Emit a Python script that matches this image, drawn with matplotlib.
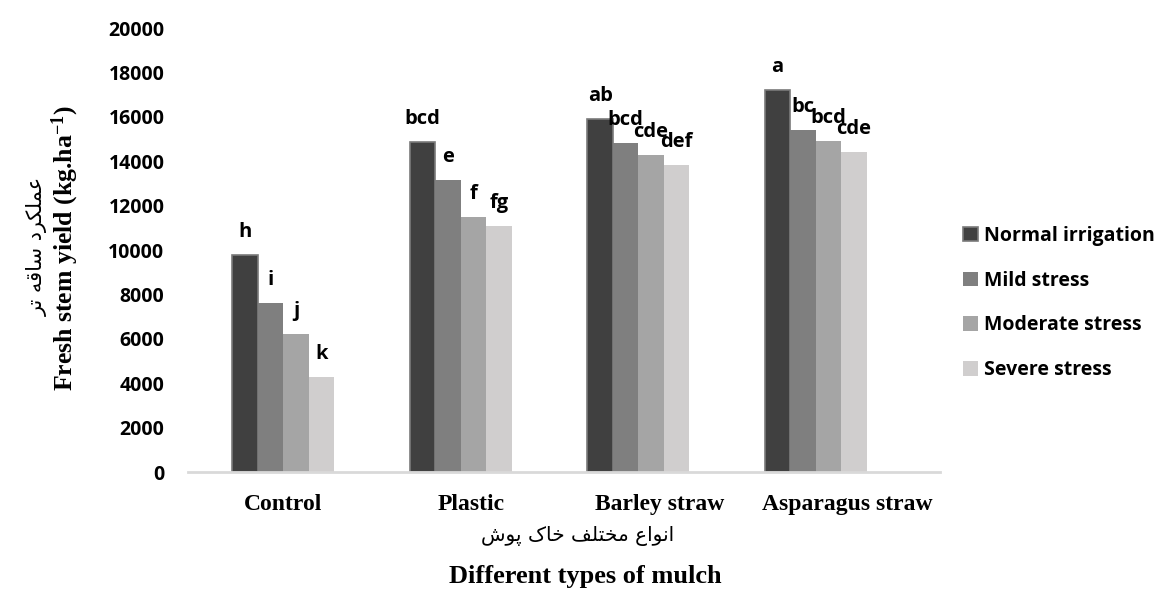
import matplotlib
matplotlib.use("Agg")
import matplotlib.pyplot as plt
import numpy as np
from matplotlib.patches import Patch

# ---------------- data ----------------
categories = ["Control", "Plastic", "Barley straw", "Asparagus straw"]
series = ["Normal irrigation", "Mild stress", "Moderate stress", "Severe stress"]
normal_irrigation = [9780, 14850, 15900, 17210]
mild_stress = [7630, 13150, 14810, 15420]
moderate_stress = [6220, 11490, 14280, 14910]
severe_stress = [4300, 11070, 13840, 14430]
letters_normal = ["h", "bcd", "ab", "a"]
letters_mild = ["i", "e", "bcd", "bc"]
letters_moderate = ["j", "f", "cde", "bcd"]
letters_severe = ["k", "fg", "def", "cde"]
y_ticks = [0, 2000, 4000, 6000, 8000, 10000, 12000, 14000, 16000, 18000, 20000]
x_title_en = "Different types of mulch"
x_title_fa = "انواع مختلف خاک پوش"
y_title_en = "Fresh stem yield (kg.ha$^{-1}$)"
y_title_fa = "عملکرد ساقه تر"

values = [normal_irrigation, mild_stress, moderate_stress, severe_stress]
letters = [letters_normal, letters_mild, letters_moderate, letters_severe]
colors = ["#404040", "#7f7f7f", "#a5a5a5", "#d0cece"]
edges = ["#7a7a7a", "#7f7f7f", "#a5a5a5", "#d0cece"]


# ---------- minimal Arabic-script shaping (presentation forms) ----------
FORMS = {
    "ا": ("\uFE8D", "\uFE8E", None, None),
    "ت": ("\uFE95", "\uFE96", "\uFE97", "\uFE98"),
    "خ": ("\uFEA5", "\uFEA6", "\uFEA7", "\uFEA8"),
    "د": ("\uFEA9", "\uFEAA", None, None),
    "ر": ("\uFEAD", "\uFEAE", None, None),
    "س": ("\uFEB1", "\uFEB2", "\uFEB3", "\uFEB4"),
    "ش": ("\uFEB5", "\uFEB6", "\uFEB7", "\uFEB8"),
    "ع": ("\uFEC9", "\uFECA", "\uFECB", "\uFECC"),
    "ف": ("\uFED1", "\uFED2", "\uFED3", "\uFED4"),
    "ق": ("\uFED5", "\uFED6", "\uFED7", "\uFED8"),
    "ک": ("\uFB8E", "\uFB8F", "\uFB90", "\uFB91"),
    "ل": ("\uFEDD", "\uFEDE", "\uFEDF", "\uFEE0"),
    "م": ("\uFEE1", "\uFEE2", "\uFEE3", "\uFEE4"),
    "ن": ("\uFEE5", "\uFEE6", "\uFEE7", "\uFEE8"),
    "ه": ("\uFEE9", "\uFEEA", "\uFEEB", "\uFEEC"),
    "و": ("\uFEED", "\uFEEE", None, None),
    "پ": ("\uFB56", "\uFB57", "\uFB58", "\uFB59"),
}


def dual(c):
    return c in FORMS and FORMS[c][2] is not None


def shape(text):
    out = []
    for i, c in enumerate(text):
        if c not in FORMS:
            out.append(c)
            continue
        prev = text[i - 1] if i > 0 else " "
        nxt = text[i + 1] if i + 1 < len(text) else " "
        jp = dual(prev)
        jn = dual(c) and nxt in FORMS
        iso, fin, ini, med = FORMS[c]
        if jp and jn:
            out.append(med)
        elif jp:
            out.append(fin)
        elif jn:
            out.append(ini)
        else:
            out.append(iso)
    return "".join(reversed(out))


plt.rcParams["mathtext.fontset"] = "custom"
plt.rcParams["mathtext.rm"] = "Liberation Serif:bold"
plt.rcParams["mathtext.bf"] = "Liberation Serif:bold"
plt.rcParams["mathtext.default"] = "regular"

W, H = 1156, 597
fig = plt.figure(figsize=(W / 100, H / 100), dpi=100)
ax = fig.add_axes([188 / W, 1 - 472 / H, 752 / W, 444 / H])

x = np.arange(len(categories))
bw = 0.1437
for i, (vals, col, ec, labs) in enumerate(zip(values, colors, edges, letters)):
    pos = x + (i - 1.5) * bw
    ax.bar(pos, vals, width=bw, color=col, edgecolor=ec, linewidth=1.2 if i == 0 else 0,
           label=series[i], zorder=2)
    for px, v, t in zip(pos, vals, labs):
        ax.annotate(t, (px, v), xytext=(0, 18), textcoords="offset pixels",
                    ha="center", va="baseline", fontsize=14.5, fontweight="bold",
                    family="Open Sans", color="black")

ax.set_xlim(-0.538, 3.70)
ax.set_ylim(0, 20000)
ax.set_yticks(y_ticks)
ax.set_yticklabels([str(t) for t in y_ticks], fontsize=14, fontweight="bold", family="Open Sans")
# category labels sit on an evenly divided axis (slightly wider than bar spacing)
ax.set_xticks(x * 1.06)
ax.set_xticklabels(categories, fontsize=17, fontweight="bold", family="Liberation Serif")
ax.tick_params(axis="y", length=0, pad=17)
ax.tick_params(axis="x", length=0, pad=16)
for s in ["top", "right", "left"]:
    ax.spines[s].set_visible(False)
ax.spines["bottom"].set_color("#d9d9d9")
ax.spines["bottom"].set_linewidth(2)

# x titles
fig.text(578 / W, 1 - 536 / H, shape(x_title_fa), ha="center", va="center",
         fontsize=14.5, family=["DejaVu Sans"])
fig.text(585 / W, 1 - 577 / H, x_title_en, ha="center", va="center",
         fontsize=19, fontweight="bold", family="Liberation Serif")
# y titles
fig.text(37 / W, 1 - 246 / H, shape(y_title_fa), ha="center", va="center",
         rotation=90, fontsize=15, family=["DejaVu Sans"])
fig.text(65 / W, 1 - 248 / H, y_title_en, ha="center", va="center",
         rotation=90, fontsize=18.5, fontweight="bold", family="Liberation Serif")

handles = [Patch(facecolor=c, edgecolor=e, linewidth=1.2 if i == 0 else 0)
           for i, (c, e) in enumerate(zip(colors, edges))]
fig.legend(handles, series, loc="upper left",
           bbox_to_anchor=(963 / W, 1 - 226 / H), bbox_transform=fig.transFigure,
           frameon=False, borderpad=0, borderaxespad=0, handlelength=0.77,
           handleheight=0.77, handletextpad=0.3, labelspacing=1.27,
           prop={"family": "Open Sans", "weight": "bold", "size": 14})

fig.savefig("out.png", dpi=100)
